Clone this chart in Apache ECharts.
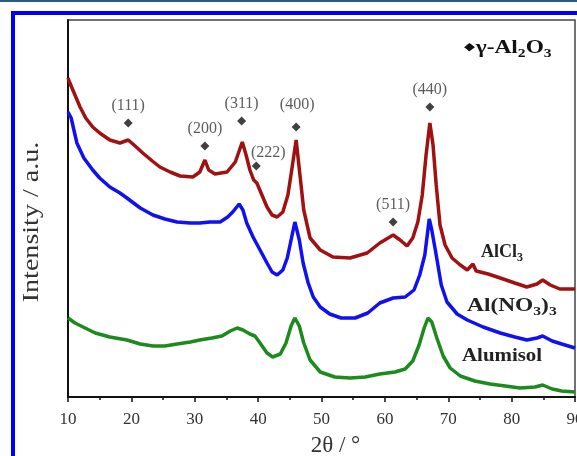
<!DOCTYPE html>
<html>
<head>
<meta charset="utf-8">
<script src="https://cdn.jsdelivr.net/npm/echarts@6/dist/echarts.min.js"></script>
<style>
  html, body { margin: 0; padding: 0; background: #fff; }
  #main { width: 577px; height: 456px; }
</style>
</head>
<body>
<div id="main"></div>
<script>
// XRD patterns, 2θ (deg) vs intensity (arbitrary units, offset stacked)
const alcl3 = [
  [10.0, 319], [10.3, 314], [11.1, 302], [11.9, 290], [12.8, 279], [13.9, 270], [15.0, 264],
  [16.6, 257], [18.2, 254], [19.5, 257], [20.6, 251], [21.8, 244], [23.3, 236], [24.5, 230],
  [26.1, 225], [27.7, 221], [29.7, 220], [30.8, 225], [31.6, 237], [32.2, 227], [33.2, 223],
  [35.1, 225], [36.4, 235], [37.5, 255], [38.1, 242], [38.7, 227], [39.3, 217], [39.8, 214],
  [40.6, 202], [41.4, 190], [42.2, 182], [43.0, 180], [43.9, 185], [44.7, 202], [45.3, 227],
  [46.0, 257], [46.6, 222], [47.2, 187], [48.2, 159], [49.8, 147], [51.8, 140], [54.5, 139],
  [57.2, 144], [59.2, 154], [61.3, 162], [62.4, 157], [63.5, 151], [64.4, 159], [65.2, 175],
  [65.9, 202], [66.5, 242], [67.1, 274], [67.6, 252], [68.1, 212], [68.7, 172], [69.5, 152],
  [70.6, 139], [71.9, 132], [73.0, 127], [73.9, 133], [74.4, 126], [76.3, 123], [78.2, 119],
  [80.5, 114], [82.4, 110], [84.0, 113], [84.9, 117], [86.1, 112], [87.6, 108], [90.0, 108]
]
const alno3 = [
  [10.0, 285], [10.5, 279], [11.4, 254], [12.5, 239], [13.9, 227], [15.0, 219], [16.6, 210],
  [18.2, 204], [19.3, 199], [21.4, 189], [23.4, 182], [25.3, 178], [27.2, 175], [29.3, 174],
  [30.8, 174], [32.4, 175], [34.0, 175], [35.2, 180], [36.0, 185], [37.0, 193], [37.6, 187],
  [38.2, 174], [39.2, 160], [40.3, 147], [41.4, 134], [42.2, 125], [43.0, 122], [43.9, 127],
  [44.6, 139], [45.2, 157], [45.8, 175], [46.5, 157], [47.1, 134], [47.9, 114], [48.7, 100],
  [49.8, 90], [51.3, 83], [53.1, 79], [55.3, 79], [57.3, 84], [59.2, 94], [61.3, 99],
  [63.2, 100], [64.6, 107], [65.5, 122], [66.3, 142], [67.0, 178], [67.4, 167], [68.1, 142],
  [68.9, 112], [69.8, 95], [71.4, 83], [73.0, 77], [75.5, 70], [78.2, 64], [80.5, 60],
  [82.4, 57], [84.0, 59], [84.9, 61], [86.4, 56], [87.9, 53], [90.0, 49]
]
const alumisol = [
  [10.0, 79], [11.1, 74], [12.7, 69], [14.3, 64], [16.6, 60], [19.3, 57], [21.4, 53],
  [23.4, 51], [25.3, 51], [27.2, 53], [29.3, 55], [30.8, 57], [32.7, 59], [34.3, 61],
  [35.6, 66], [36.7, 69], [37.6, 67], [38.7, 63], [39.5, 61], [40.3, 54], [41.4, 44],
  [42.3, 40], [43.5, 43], [44.4, 54], [45.2, 71], [45.8, 79], [46.5, 71], [47.2, 54],
  [48.2, 37], [49.8, 25], [52.1, 20], [54.5, 19], [56.9, 20], [59.2, 23], [61.6, 25],
  [63.2, 28], [64.4, 36], [65.4, 52], [66.2, 69], [66.8, 79], [67.4, 75], [68.2, 59],
  [69.2, 41], [70.3, 29], [71.9, 21], [74.2, 16], [76.6, 13], [79.0, 11], [81.3, 9],
  [83.7, 10], [84.9, 12], [86.4, 8], [87.9, 6], [90.0, 5]
]

// γ-Al2O3 reflections marked above the AlCl3 pattern
const peakHkl = ['(111)', '(200)', '(311)', '(222)', '(400)', '(511)', '(440)']
const peakAngle = [19.5, 31.6, 37.4, 39.7, 46.0, 61.3, 67.1]
const peakMark = [274, 251, 276, 231, 270, 175, 290]

const xTicks = [10, 20, 30, 40, 50, 60, 70, 80, 90]

const serif = "'Liberation Serif', 'DejaVu Serif', serif"

const chart = echarts.init(document.getElementById('main'))

const peakData = peakHkl.map((h, i) => {
  const item = { value: [peakAngle[i], peakMark[i]], name: h }
  if (h === '(222)') item.label = { offset: [12, 4] }
  if (h === '(400)') item.label = { offset: [1, -5] }
  return item
})

// bold serif text with subscripts (fresh object each time)
function subRich() {
  return {
    t: { fontFamily: serif, fontSize: 18, fontWeight: 'bold', fill: '#222' },
    s: { fontFamily: serif, fontSize: 12, fontWeight: 'bold', fill: '#222', padding: [12, 0, 0, 0] },
  }
}

chart.setOption({
  animation: false,
  backgroundColor: '#fff',
  grid: {
    left: 68,
    right: 2,
    top: 20,
    bottom: 59,
    outerBoundsMode: 'none',
    containLabel: false,
    show: true,
    borderColor: '#444',
    borderWidth: 1.5,
  },
  xAxis: {
    type: 'value',
    min: xTicks[0],
    max: xTicks[xTicks.length - 1],
    interval: 10,
    name: '2θ / °',
    nameLocation: 'middle',
    nameGap: 37,
    nameTextStyle: { fontFamily: serif, fontSize: 23, color: '#333', padding: [0, 0, 0, 28] },
    axisLine: { lineStyle: { color: '#111', width: 2 } },
    axisTick: { show: true, length: 5, lineStyle: { color: '#111', width: 1.5 } },
    minorTick: { show: true, splitNumber: 2, length: 3, lineStyle: { color: '#111', width: 1.5 } },
    axisLabel: { fontFamily: serif, fontSize: 17, color: '#333', margin: 14 },
    splitLine: { show: false },
  },
  yAxis: {
    type: 'value',
    min: 0,
    max: 377,
    axisLine: { show: true, lineStyle: { color: '#111', width: 2 } },
    axisTick: { show: false },
    axisLabel: { show: false },
    splitLine: { show: false },
  },
  series: [
    {
      name: 'AlCl3',
      type: 'line',
      data: alcl3,
      showSymbol: false,
      lineStyle: { color: '#a01212', width: 3.5 },
      z: 3,
    },
    {
      name: 'Al(NO3)3',
      type: 'line',
      data: alno3,
      showSymbol: false,
      lineStyle: { color: '#1010f0', width: 3.5 },
      z: 3,
    },
    {
      name: 'Alumisol',
      type: 'line',
      data: alumisol,
      showSymbol: false,
      lineStyle: { color: '#1c8a1c', width: 3.5 },
      z: 3,
    },
    {
      name: 'peaks',
      type: 'scatter',
      data: peakData,
      symbol: 'diamond',
      symbolSize: 9,
      itemStyle: { color: '#111' },
      label: {
        show: true,
        position: 'top',
        distance: 5,
        formatter: '{b}',
        fontFamily: serif,
        fontSize: 16,
        color: '#333',
      },
      z: 4,
    },
  ],
  graphic: [
    // page frame
    { type: 'rect', shape: { x: 0, y: 0, width: 577, height: 2 }, style: { fill: '#2a5a88' } },
    { type: 'rect', shape: { x: 11, y: 11, width: 566, height: 4 }, style: { fill: '#0000f5' } },
    { type: 'rect', shape: { x: 11, y: 11, width: 4, height: 445 }, style: { fill: '#0000f5' } },
    // y axis title, stretched along its length like the original
    {
      type: 'text', x: 32, y: 222, rotation: Math.PI / 2, scaleX: 1.22,
      style: {
        text: 'Intensity / a.u.',
        font: '23px ' + serif,
        fill: '#333',
        align: 'center',
        verticalAlign: 'middle',
      },
    },
    // phase marker
    {
      type: 'text', x: 464, y: 36, scaleX: 1.3,
      style: {
        text: '{d|◆}{t|γ-Al}{s|2}{t|O}{s|3}',
        rich: {
          d: { fontSize: 11, fill: '#111', padding: [0, 1, 2, 0] },
          t: { fontFamily: serif, fontSize: 18, fontWeight: 'bold', fill: '#111' },
          s: { fontFamily: serif, fontSize: 12, fontWeight: 'bold', fill: '#111', padding: [12, 0, 0, 0] },
        },
      },
    },
    // sample labels
    {
      type: 'text', x: 481, y: 240,
      style: { text: '{t|AlCl}{s|3}', rich: subRich() },
    },
    {
      type: 'text', x: 467, y: 294, scaleX: 1.3,
      style: { text: '{t|Al(NO}{s|3}{t|)}{s|3}', rich: subRich() },
    },
    {
      type: 'text', x: 462, y: 347, scaleX: 1.16,
      style: { text: 'Alumisol', font: 'bold 18px ' + serif, fill: '#222' },
    },
  ],
})
</script>
</body>
</html>
